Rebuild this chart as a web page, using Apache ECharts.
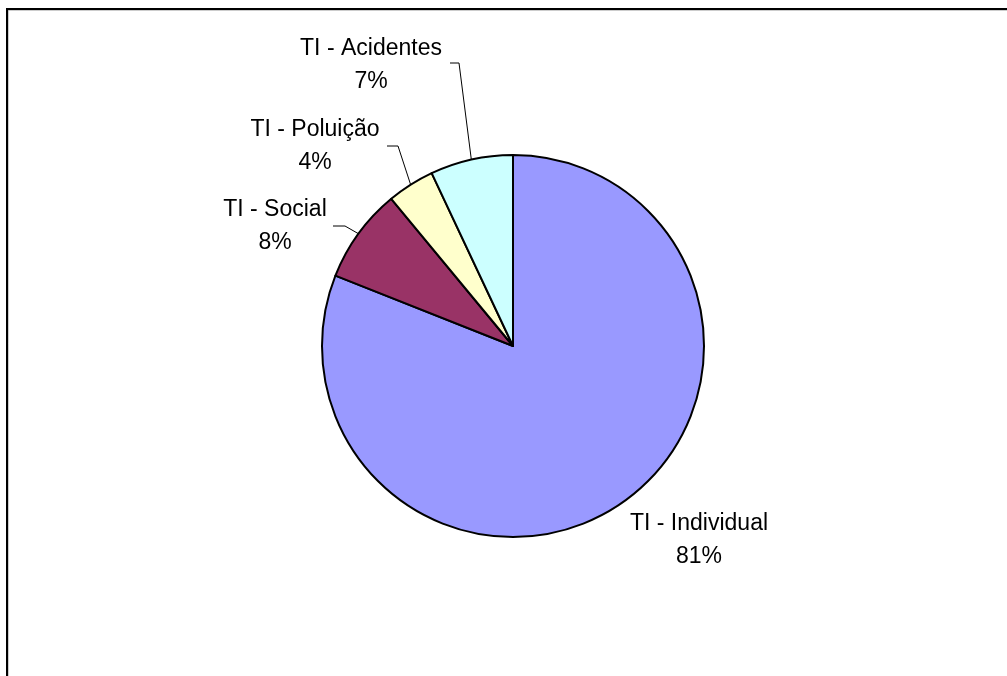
<!DOCTYPE html>
<html>
<head>
<meta charset="utf-8">
<script src="https://cdn.jsdelivr.net/npm/echarts@6/dist/echarts.min.js"></script>
<style>
  html, body { margin: 0; padding: 0; background: #fff; }
  #chart { width: 1007px; height: 676px; }
</style>
</head>
<body>
<div id="chart"></div>
<script>
// data
var categories = ['TI - Individual', 'TI - Social', 'TI - Polui\u00e7\u00e3o', 'TI - Acidentes'];
var values = [81, 8, 4, 7];
var colors = ['#9999FF', '#993366', '#FFFFCC', '#CCFFFF'];

// where each label block sits (centre) and where its leader line bends
var labelPos = [[699, 540], [275, 226], [315, 146], [371, 65]];
var bendPos = [null, [345, 226], [398, 146], [459, 63]];
var endPos = [null, [333, 226], [387, 146], [450, 63]];

var chart = echarts.init(document.getElementById('chart'));

var pieData = categories.map(function (name, i) {
    return { name: name, value: values[i], itemStyle: { color: colors[i] } };
});

var option = {
    animation: false,
    backgroundColor: '#fff',
    graphic: [{
        type: 'rect',
        shape: { x: 8, y: 10, width: 1020, height: 700 },
        style: { fill: 'none', stroke: '#999', lineWidth: 1 },
        silent: true
    }, {
        type: 'rect',
        shape: { x: 7, y: 9, width: 1020, height: 700 },
        style: { fill: 'none', stroke: '#000', lineWidth: 2 },
        silent: true
    }],
    series: [{
        type: 'pie',
        center: [513, 346],
        radius: 191,
        startAngle: 90,
        clockwise: true,
        avoidLabelOverlap: false,
        data: pieData,
        itemStyle: { borderColor: '#000', borderWidth: 2 },
        emphasis: { disabled: true },
        label: {
            show: true,
            position: 'outside',
            formatter: '{b}\n{d}%',
            fontFamily: 'Liberation Sans, Arial, sans-serif',
            fontSize: 23,
            lineHeight: 33,
            color: '#000'
        },
        labelLine: {
            show: true,
            length: 20,
            length2: 10,
            lineStyle: { color: '#000', width: 1 }
        },
        labelLayout: function (params) {
            var i = params.dataIndex;
            var out = {
                x: labelPos[i][0],
                y: labelPos[i][1],
                align: 'center',
                verticalAlign: 'middle'
            };
            if (bendPos[i]) {
                out.labelLinePoints = [params.labelLinePoints[0], bendPos[i], endPos[i]];
            } else {
                out.labelLinePoints = [params.labelLinePoints[0], params.labelLinePoints[0], params.labelLinePoints[0]];
            }
            return out;
        }
    }]
};

chart.setOption(option);
</script>
</body>
</html>
